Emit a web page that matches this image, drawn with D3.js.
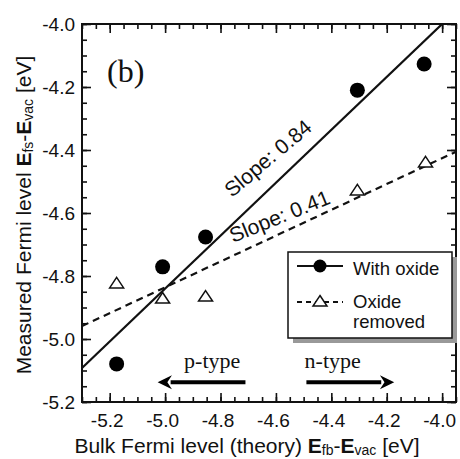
<!DOCTYPE html>
<html>
<head>
<meta charset="utf-8">
<script src="https://cdn.jsdelivr.net/npm/d3@7"></script>
<style>
  body { margin: 0; background: #fff; }
  text { font-family: "Liberation Sans", Arial, sans-serif; fill: #111; }
  .serif { font-family: "Liberation Serif", "Times New Roman", serif; }
</style>
</head>
<body>
<svg id="chart" width="460" height="459"></svg>
<script>
// tick labels
const xTicks = [-5.2, -5.0, -4.8, -4.6, -4.4, -4.2, -4.0];
const yTicks = [-5.2, -5.0, -4.8, -4.6, -4.4, -4.2, -4.0];

// measured points
const withOxideX = [-5.175, -5.009, -4.854, -4.306, -4.065];
const withOxideY = [-5.079, -4.771, -4.676, -4.210, -4.127];
const removedX = [-5.175, -5.009, -4.854, -4.306, -4.060];
const removedY = [-4.825, -4.873, -4.867, -4.530, -4.441];

// fit lines: slope and value at x = -4.0
const fitNames = ["Slope: 0.84", "Slope: 0.41"];
const fitSlopes = [0.84, 0.41];
const fitAtMinus4 = [-4.0, -4.426];
const fitDash = [null, "7,5"];
// label anchor (data coords) and angle for each slope label
const fitLabelX = [-4.759, -4.755];
const fitLabelY = [-4.552, -4.695];
const fitLabelAngle = [-40, -22];

// doping arrows
const arrowNames = ["p-type", "n-type"];
const arrowFrom = [-4.71, -4.49];
const arrowTo = [-5.027, -4.173];
const arrowY = -5.137;
const arrowLabelX = [-4.83, -4.395];
const arrowLabelY = -5.092;

const svg = d3.select("#chart");
const x = d3.scaleLinear().domain([-5.3, -3.95]).range([82, 456]);
const y = d3.scaleLinear().domain([-5.2, -4.0]).range([402, 24]);
const fmt = d => d.toFixed(1);

const xMinor = d3.range(0, 28).map(i => -5.3 + i * 0.05);
const yMinor = d3.range(0, 25).map(i => -5.2 + i * 0.05);

function axis(gen, tr, vals, size, labels, pad) {
  const g = svg.append("g").attr("transform", tr)
    .call(gen.tickValues(vals).tickSize(size).tickPadding(pad || 0)
      .tickFormat(labels ? fmt : ""));
  g.select(".domain").remove();
  g.selectAll(".tick line").attr("stroke", "#111").attr("stroke-width", 1.6);
  return g;
}

// minor ticks, all four sides
axis(d3.axisBottom(x), "translate(0,402)", xMinor, -5, false);
axis(d3.axisTop(x), "translate(0,24)", xMinor, -5, false);
axis(d3.axisLeft(y), "translate(82,0)", yMinor, -5, false);
axis(d3.axisRight(y), "translate(456,0)", yMinor, -5, false);

// major ticks
axis(d3.axisBottom(x), "translate(0,402)", xTicks, -9, true, 12)
  .selectAll("text").style("font-size", "19px").attr("fill", "#111").attr("dx", -3);
axis(d3.axisTop(x), "translate(0,24)", xTicks, -9, false);
axis(d3.axisLeft(y), "translate(82,0)", yTicks, -9, true, 7)
  .selectAll("text").style("font-size", "19px").attr("fill", "#111");
axis(d3.axisRight(y), "translate(456,0)", yTicks, -9, false);

// frame
svg.append("rect").attr("x", 82).attr("y", 24).attr("width", 374).attr("height", 378)
  .attr("fill", "none").attr("stroke", "#111").attr("stroke-width", 2);

svg.append("clipPath").attr("id", "plot")
  .append("rect").attr("x", 82).attr("y", 24).attr("width", 374).attr("height", 378);

// fit lines
const xd = x.domain();
fitSlopes.forEach((s, i) => {
  const f = v => fitAtMinus4[i] + s * (v + 4.0);
  svg.append("line").attr("clip-path", "url(#plot)")
    .attr("x1", x(xd[0])).attr("y1", y(f(xd[0])))
    .attr("x2", x(xd[1])).attr("y2", y(f(xd[1])))
    .attr("stroke", "#111").attr("stroke-width", 2.2)
    .attr("stroke-dasharray", fitDash[i]);
  svg.append("text")
    .attr("transform", `translate(${x(fitLabelX[i])},${y(fitLabelY[i])}) rotate(${fitLabelAngle[i]})`)
    .style("font-size", "21px")
    .text(fitNames[i]);
});

// markers
const tri = "M0,-6.5L7,4L-7,4Z";
svg.append("g").selectAll("circle").data(withOxideX).join("circle")
  .attr("cx", d => x(d)).attr("cy", (d, i) => y(withOxideY[i]))
  .attr("r", 7.5).attr("fill", "#000");
svg.append("g").selectAll("path").data(removedX).join("path")
  .attr("transform", (d, i) => `translate(${x(d)},${y(removedY[i])})`)
  .attr("d", tri).attr("fill", "#fff").attr("stroke", "#111").attr("stroke-width", 1.5);

// label (b)
svg.append("text").attr("class", "serif").attr("x", 107).attr("y", 82)
  .style("font-size", "32px").text("(b)");

// arrows
arrowNames.forEach((name, i) => {
  const x0 = x(arrowFrom[i]), x1 = x(arrowTo[i]), yy = y(arrowY);
  const dir = Math.sign(x1 - x0), head = 13;
  svg.append("line").attr("x1", x0).attr("y1", yy).attr("x2", x1 - dir * head).attr("y2", yy)
    .attr("stroke", "#000").attr("stroke-width", 4);
  svg.append("path")
    .attr("d", `M${x1},${yy}L${x1 - dir * head * 1.1},${yy - 7}L${x1 - dir * head * 0.75},${yy}L${x1 - dir * head * 1.1},${yy + 7}Z`)
    .attr("fill", "#000");
  svg.append("text").attr("class", "serif")
    .attr("x", x(arrowLabelX[i])).attr("y", y(arrowLabelY))
    .attr("text-anchor", "middle").style("font-size", "22px").text(name);
});

// legend
const lg = svg.append("g");
lg.append("rect").attr("x", 293).attr("y", 257).attr("width", 164).attr("height", 86).attr("fill", "#999");
lg.append("rect").attr("x", 288).attr("y", 252).attr("width", 164).attr("height", 86)
  .attr("fill", "#fff").attr("stroke", "#111").attr("stroke-width", 1.5);
lg.append("line").attr("x1", 297).attr("x2", 343).attr("y1", 266).attr("y2", 266)
  .attr("stroke", "#111").attr("stroke-width", 2);
lg.append("circle").attr("cx", 320).attr("cy", 266).attr("r", 6.5).attr("fill", "#000");
lg.append("line").attr("x1", 297).attr("x2", 343).attr("y1", 302).attr("y2", 302)
  .attr("stroke", "#111").attr("stroke-width", 2).attr("stroke-dasharray", "5,4");
lg.append("path").attr("transform", "translate(320,302)").attr("d", tri)
  .attr("fill", "#fff").attr("stroke", "#111").attr("stroke-width", 1.5);
lg.append("text").attr("x", 353).attr("y", 275).style("font-size", "18.5px").text("With oxide");
lg.append("text").attr("x", 353).attr("y", 308).style("font-size", "18.5px").text("Oxide");
lg.append("text").attr("x", 353).attr("y", 328).style("font-size", "18.5px").text("removed");

// axis titles with subscripts
function title(t, parts) {
  parts.forEach(p => {
    const ts = t.append("tspan").text(p[0]);
    if (p[1] === "sub") ts.style("font-size", "14px").attr("dy", 2);
    if (p[1] === "E") ts.style("font-weight", "bold");
    if (p[1] === "back") ts.attr("dy", -2);
  });
}
const xt = svg.append("text").attr("x", 247).attr("y", 453).attr("text-anchor", "middle")
  .style("font-size", "21px");
title(xt, [["Bulk Fermi level (theory) "], ["E", "E"], ["fb", "sub"], ["-", "back"], ["E", "E"], ["vac", "sub"], [" [eV]", "back"]]);

const yt = svg.append("text").attr("transform", "translate(31,215) rotate(-90)")
  .attr("text-anchor", "middle").style("font-size", "21px");
title(yt, [["Measured Fermi level "], ["E", "E"], ["fs", "sub"], ["-", "back"], ["E", "E"], ["vac", "sub"], [" [eV]", "back"]]);
</script>
</body>
</html>
